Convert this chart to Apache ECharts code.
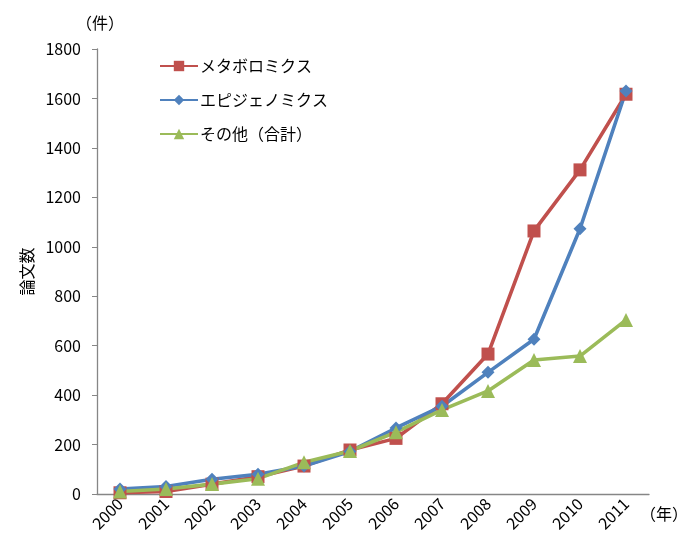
<!DOCTYPE html>
<html>
<head>
<meta charset="utf-8">
<script src="https://cdn.jsdelivr.net/npm/echarts@6/dist/echarts.min.js"></script>
<style>
  html, body { margin: 0; padding: 0; background: #fff; }
  #chart { width: 679px; height: 540px; }
</style>
</head>
<body>
<div id="chart"></div>
<script>
// Publication counts per year
const years = ['2000','2001','2002','2003','2004','2005','2006','2007','2008','2009','2010','2011'];
const metabolomics = [5, 10, 40, 70, 113, 178, 225, 365, 566, 1064, 1311, 1617];
const epigenomics  = [20, 30, 60, 80, 113, 172, 267, 355, 492, 626, 1073, 1630];
const others       = [10, 20, 40, 62, 128, 174, 250, 340, 417, 542, 558, 704];
const seriesNames = ['メタボロミクス', 'エピジェノミクス', 'その他（合計）'];
const yTicks = { min: 0, max: 1800, interval: 200 };

const FONT = '"Noto Sans CJK JP", "Noto Sans", sans-serif';
const AXIS_COLOR = '#868686';

const chart = echarts.init(document.getElementById('chart'), null, { renderer: 'canvas' });

function lineSeries(name, data, color, symbol, size) {
  return {
    name, type: 'line', data,
    symbol, symbolSize: size,
    lineStyle: { color, width: 3.6 },
    itemStyle: { color },
    emphasis: { disabled: true },
    z: 2
  };
}

chart.setOption({
  animation: false,
  backgroundColor: '#fff',
  textStyle: { fontFamily: FONT },
  grid: { left: 97, right: 30, top: 49, bottom: 46, containLabel: false, outerBoundsMode: 'none' },
  legend: {
    orient: 'vertical',
    left: 154, top: 53,
    itemWidth: 38, itemHeight: 13,
    itemGap: 18,
    textStyle: { fontFamily: FONT, fontSize: 16, color: '#000', padding: [0, 0, 0, -3] },
    data: seriesNames
  },
  graphic: [{
    type: 'text', left: 76, top: 15,
    style: { text: '（件）', font: '16px ' + FONT, fill: '#000' }
  }, {
    type: 'text', left: 640, top: 506,
    style: { text: '（年）', font: '16px ' + FONT, fill: '#000' }
  }],
  xAxis: {
    type: 'category',
    data: years,
    boundaryGap: true,
    axisLine: { lineStyle: { color: AXIS_COLOR, width: 1.3 } },
    axisTick: { alignWithLabel: true, length: 5, inside: false, lineStyle: { color: AXIS_COLOR } },
    axisLabel: { rotate: 45, fontSize: 16, color: '#000', margin: 7, fontFamily: FONT }
  },
  yAxis: {
    type: 'value',
    min: yTicks.min, max: yTicks.max, interval: yTicks.interval,
    name: '論文数',
    nameLocation: 'middle',
    nameGap: 54,
    nameRotate: 90,
    nameTextStyle: { fontFamily: FONT, fontSize: 16, color: '#000' },
    splitLine: { show: false },
    axisLine: { show: true, lineStyle: { color: AXIS_COLOR, width: 1.3 } },
    axisTick: { show: true, length: 5, lineStyle: { color: AXIS_COLOR } },
    axisLabel: { fontSize: 16, color: '#000', margin: 16, fontFamily: FONT, formatter: v => String(v) }
  },
  series: [
    lineSeries(seriesNames[0], metabolomics, '#C0504D', 'rect', 13),
    lineSeries(seriesNames[1], epigenomics, '#4F81BD', 'diamond', 13),
    lineSeries(seriesNames[2], others, '#9BBB59', 'triangle', 14)
  ]
});
</script>
</body>
</html>
